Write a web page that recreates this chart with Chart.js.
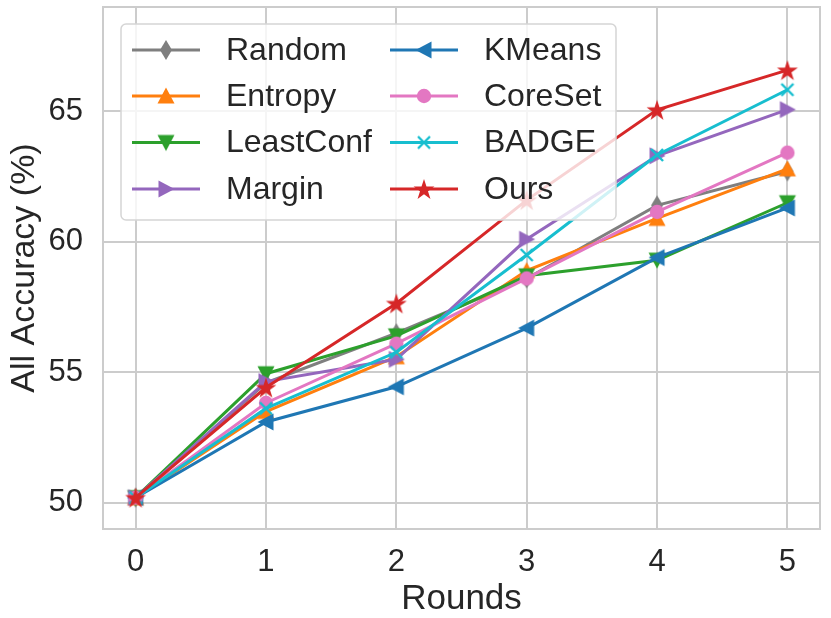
<!DOCTYPE html>
<html>
<head>
<meta charset="utf-8">
<title>All Accuracy vs Rounds</title>
<script src="https://cdn.jsdelivr.net/npm/chart.js@4.4.1/dist/chart.umd.min.js"></script>
<style>
  html, body { margin: 0; padding: 0; background: #fff; }
  #chart { display: block; }
</style>
</head>
<body>
<canvas id="chart" width="831" height="618"></canvas>
<script>
// Veriler
const rounds = [0, 1, 2, 3, 4, 5];
const yTicks = [50, 55, 60, 65];

const randomAcc    = [50.2, 54.6, 56.5, 58.6, 61.4, 62.7];
const entropyAcc   = [50.2, 53.5, 55.6, 58.9, 60.9, 62.8];
const leastConfAcc = [50.2, 54.95, 56.4, 58.7, 59.3, 61.5];
const marginAcc    = [50.2, 54.65, 55.5, 60.1, 63.3, 65.07];
const kmeansAcc    = [50.2, 53.1, 54.45, 56.7, 59.4, 61.3];
const coresetAcc   = [50.2, 53.83, 56.1, 58.6, 61.15, 63.42];
const badgeAcc     = [50.2, 53.62, 55.77, 59.5, 63.33, 65.83];
const oursAcc      = [50.2, 54.42, 57.64, 61.6, 65.06, 66.58];

const FONT = "'Liberation Sans', Arial, Helvetica, sans-serif";
const TEXT = '#262626';
const GRID = '#cccccc';

// Marker çizimi (matplotlib benzeri)
function makeMarker(kind, color) {
    const size = 26;
    const c = document.createElement('canvas');
    c.width = size;
    c.height = size;
    const ctx = c.getContext('2d');
    ctx.translate(size / 2, size / 2);
    ctx.fillStyle = color;
    ctx.strokeStyle = color;
    ctx.beginPath();
    const tri = (rot) => {
        ctx.save();
        ctx.rotate(rot);
        ctx.moveTo(0, -8.5);
        ctx.lineTo(8.5, 7.5);
        ctx.lineTo(-8.5, 7.5);
        ctx.closePath();
        ctx.restore();
    };
    if (kind === 'd') {
        ctx.moveTo(0, -10); ctx.lineTo(6, 0); ctx.lineTo(0, 10); ctx.lineTo(-6, 0);
        ctx.closePath(); ctx.fill();
    } else if (kind === '^') { tri(0); ctx.fill(); }
    else if (kind === 'v') { tri(Math.PI); ctx.fill(); }
    else if (kind === '>') { tri(Math.PI / 2); ctx.fill(); }
    else if (kind === '<') { tri(-Math.PI / 2); ctx.fill(); }
    else if (kind === 'o') { ctx.arc(0, 0, 7.2, 0, Math.PI * 2); ctx.fill(); }
    else if (kind === 'x') {
        ctx.lineWidth = 2.4;
        ctx.moveTo(-6, -6); ctx.lineTo(6, 6);
        ctx.moveTo(6, -6); ctx.lineTo(-6, 6);
        ctx.stroke();
    } else if (kind === '*') {
        const R = 11, r = R * 0.382;
        for (let i = 0; i < 10; i++) {
            const a = -Math.PI / 2 + i * Math.PI / 5;
            const rad = i % 2 === 0 ? R : r;
            const px = Math.cos(a) * rad, py = Math.sin(a) * rad + 1;
            if (i === 0) ctx.moveTo(px, py); else ctx.lineTo(px, py);
        }
        ctx.closePath(); ctx.fill();
    }
    return c;
}

const series = [
    { label: 'Random',    data: randomAcc,    color: '#7f7f7f', marker: 'd' },
    { label: 'Entropy',   data: entropyAcc,   color: '#ff7f0e', marker: '^' },
    { label: 'LeastConf', data: leastConfAcc, color: '#2ca02c', marker: 'v' },
    { label: 'Margin',    data: marginAcc,    color: '#9467bd', marker: '>' },
    { label: 'KMeans',    data: kmeansAcc,    color: '#1f77b4', marker: '<' },
    { label: 'CoreSet',   data: coresetAcc,   color: '#e377c2', marker: 'o' },
    { label: 'BADGE',     data: badgeAcc,     color: '#17becf', marker: 'x' },
    { label: 'Ours',      data: oursAcc,      color: '#d62728', marker: '*' }
];

const datasets = series.map((s, i) => {
    const img = makeMarker(s.marker, s.color);
    return {
        label: s.label,
        data: rounds.map((r, j) => ({ x: r, y: s.data[j] })),
        borderColor: s.color,
        backgroundColor: s.color,
        borderWidth: 3,
        pointStyle: img,
        pointRadius: 10,
        pointHoverRadius: 10,
        tension: 0,
        order: series.length - i,
        markerImg: img
    };
});

// Grafik çerçevesi (dört kenar)
const framePlugin = {
    id: 'frame',
    beforeDatasetsDraw(chart) {
        const { ctx, chartArea: a } = chart;
        ctx.save();
        ctx.strokeStyle = GRID;
        ctx.lineWidth = 2;
        ctx.strokeRect(a.left, a.top, a.right - a.left, a.bottom - a.top);
        ctx.restore();
    }
};

// İki sütunlu lejant
const legendPlugin = {
    id: 'twoColLegend',
    afterDatasetsDraw(chart) {
        const ctx = chart.ctx;
        const box = { x: 121, y: 24, w: 495, h: 196, r: 5 };
        ctx.save();
        ctx.beginPath();
        ctx.roundRect(box.x, box.y, box.w, box.h, box.r);
        ctx.fillStyle = 'rgba(255,255,255,0.8)';
        ctx.fill();
        ctx.strokeStyle = '#d5d5d5';
        ctx.lineWidth = 1.5;
        ctx.stroke();
        const cols = [132, 390];
        const rowY = [50, 96, 142.5, 189];
        ctx.font = '32px ' + FONT;
        ctx.textBaseline = 'middle';
        chart.data.datasets.forEach((ds, i) => {
            const x0 = cols[Math.floor(i / 4)];
            const y = rowY[i % 4];
            ctx.beginPath();
            ctx.strokeStyle = ds.borderColor;
            ctx.lineWidth = 3;
            ctx.moveTo(x0, y);
            ctx.lineTo(x0 + 68, y);
            ctx.stroke();
            const img = ds.markerImg;
            ctx.drawImage(img, x0 + 34 - img.width / 2, y - img.height / 2);
            ctx.fillStyle = TEXT;
            ctx.fillText(ds.label, x0 + 94, y + 1);
        });
        ctx.restore();
    }
};

new Chart(document.getElementById('chart'), {
    type: 'line',
    data: { datasets: datasets },
    plugins: [framePlugin, legendPlugin],
    options: {
        responsive: false,
        devicePixelRatio: 1,
        animation: false,
        layout: { autoPadding: false, padding: { top: 7, right: 11, left: 0, bottom: 0 } },
        plugins: { legend: { display: false }, tooltip: { enabled: false } },
        scales: {
            x: {
                type: 'linear', min: -0.25, max: 5.25,
                afterBuildTicks: (scale) => { scale.ticks = rounds.map(v => ({ value: v })); },
                afterFit: (scale) => { scale.height = 89; scale.paddingLeft = 0; scale.paddingRight = 0; },
                grid: { color: GRID, lineWidth: 2, drawTicks: false },
                border: { display: false },
                ticks: { color: TEXT, padding: 15, font: { family: FONT, size: 31 }, callback: (v) => String(v) },
                title: { display: true, text: 'Rounds', color: TEXT, font: { family: FONT, size: 35 }, padding: { top: 0, bottom: -2 } }
            },
            y: {
                type: 'linear', min: 49, max: 69,
                afterBuildTicks: (scale) => { scale.ticks = yTicks.map(v => ({ value: v })); },
                afterFit: (scale) => { scale.width = 103; scale.paddingTop = 0; scale.paddingBottom = 0; },
                grid: { color: GRID, lineWidth: 2, drawTicks: false },
                border: { display: false },
                ticks: { color: TEXT, padding: 20, font: { family: FONT, size: 31 }, callback: (v) => String(v) },
                title: { display: true, text: 'All Accuracy (%)', color: TEXT, font: { family: FONT, size: 34 }, padding: { top: 4, bottom: 0 } }
            }
        }
    }
});
</script>
</body>
</html>
